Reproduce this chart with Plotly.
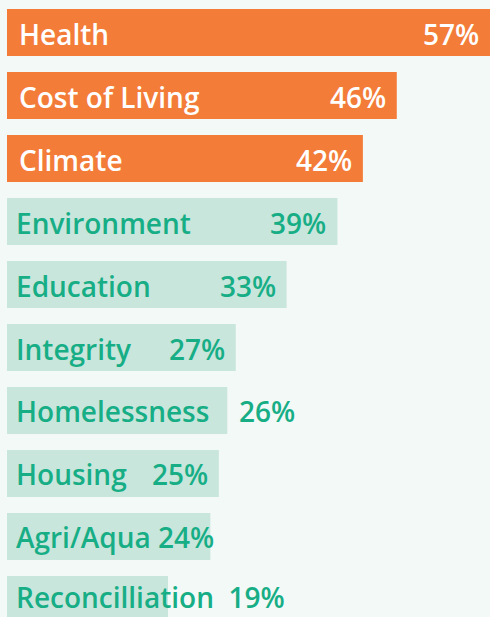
import plotly.graph_objects as go

categories = ["Health", "Cost of Living", "Climate", "Environment", "Education",
              "Integrity", "Homelessness", "Housing", "Agri/Aqua", "Reconcilliation"]
percent = [57, 46, 42, 39, 33, 27, 26, 25, 24, 19]
highlight = [True, True, True, False, False, False, False, False, False, False]

# percentage label placement style per row: inside bar end, outside bar end, or joined after label
pct_mode = ["in", "in", "in", "in", "in", "in", "out", "in", "join", "join"]
join_sep = {"Agri/Aqua": "\u00a0", "Reconcilliation": "\u00a0\u00a0"}

ORANGE = "#F37C38"
MINT = "#C9E6DD"
GREEN = "#17AE86"
BG = "#F3F9F7"
FONT = "Open Sans"
FS = 28

colors = [ORANGE if h else MINT for h in highlight]

fig = go.Figure(go.Bar(
    x=percent, y=categories, orientation="h",
    marker=dict(color=colors, line=dict(width=0)),
    hoverinfo="skip",
))

annotations = []
last = len(categories) - 1
for i, (cat, p, h, mode) in enumerate(zip(categories, percent, highlight, pct_mode)):
    tcol = "white" if h else GREEN
    font = dict(family=FONT, size=FS, color=tcol, weight=600)
    pct_txt = f"{p}%"
    ys = 2 if i == last else -1
    if mode == "join":
        label = cat + join_sep[cat] + pct_txt
    else:
        label = cat
    annotations.append(dict(x=0, y=cat, xref="x", yref="y", text=label,
                            showarrow=False, xanchor="left", yanchor="middle",
                            xshift=10 if h else 7, yshift=ys, font=font))
    if mode == "in":
        annotations.append(dict(x=p, y=cat, xref="x", yref="y", text=pct_txt,
                                showarrow=False, xanchor="right", yanchor="middle",
                                xshift=-9, yshift=ys, font=font))
    elif mode == "out":
        annotations.append(dict(x=p, y=cat, xref="x", yref="y", text=pct_txt,
                                showarrow=False, xanchor="left", yanchor="middle",
                                xshift=10, yshift=ys, font=dict(family=FONT, size=FS, color=GREEN, weight=600)))

fig.update_layout(
    width=490, height=617,
    margin=dict(l=7, r=0, t=0, b=0),
    paper_bgcolor=BG, plot_bgcolor=BG,
    bargap=0.254,
    showlegend=False,
    xaxis=dict(range=[0, 57], visible=False, fixedrange=True),
    yaxis=dict(categoryorder="array", categoryarray=categories,
               range=[9.278, -0.516], visible=False, fixedrange=True),
    annotations=annotations,
)

fig.write_html(
    "out.html",
    config={"displayModeBar": False},
    post_script="document.body.style.margin='0';document.body.style.overflow='hidden';"
                "document.body.style.background='" + BG + "';",
)
